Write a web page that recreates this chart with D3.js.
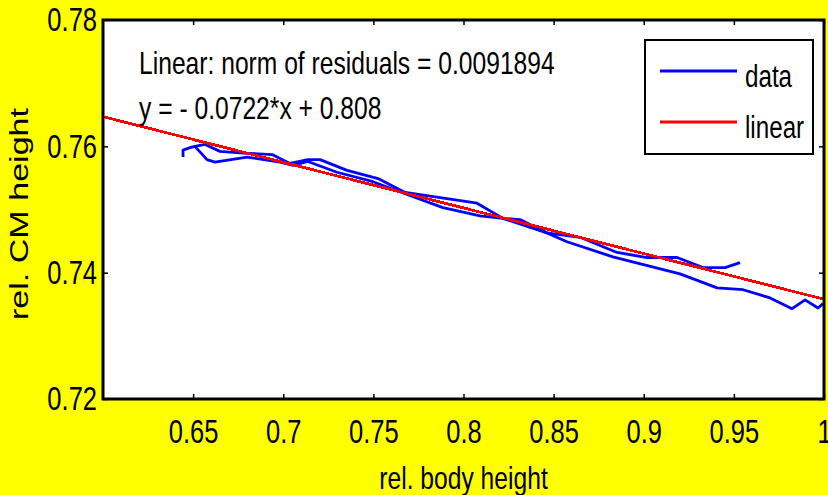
<!DOCTYPE html>
<html>
<head>
<meta charset="utf-8">
<title>rel. CM height vs rel. body height</title>
<script src="https://cdn.jsdelivr.net/npm/d3@7"></script>
<style>
    body {
        margin: 0;
        background-color: #FFFF00;
    }
    svg text {
        font-family: 'Liberation Sans', Arial, sans-serif;
        fill: #000;
    }
</style>
</head>
<body>
<div id="chart"></div>
<script>
    // data: two passes of the same movement
    var downX = [0.6444, 0.6444, 0.6483, 0.6510, 0.6577, 0.6621, 0.6799, 0.6982, 0.7054, 0.7137,
                 0.7298, 0.7498, 0.7676, 0.7886, 0.8092, 0.8219, 0.8463, 0.8574, 0.8829, 0.9201,
                 0.9407, 0.9551, 0.9701, 0.9823, 0.9895, 0.9967, 0.9994];
    var downY = [0.7583, 0.7594, 0.7598, 0.7600, 0.7579, 0.7575, 0.7583, 0.7575, 0.7570, 0.7576,
                 0.7559, 0.7544, 0.7525, 0.7503, 0.7490, 0.7486, 0.7463, 0.7449, 0.7425, 0.7398,
                 0.7376, 0.7373, 0.7360, 0.7343, 0.7357, 0.7344, 0.7351];
    var upX = [0.6510, 0.6566, 0.6649, 0.6799, 0.6938, 0.7037, 0.7137, 0.7204, 0.7354, 0.7526,
               0.7676, 0.8075, 0.8219, 0.8313, 0.8463, 0.8646, 0.8852, 0.9018, 0.9185, 0.9329,
               0.9451, 0.9534];
    var upY = [0.7600, 0.7603, 0.7592, 0.7589, 0.7587, 0.7573, 0.7579, 0.7579, 0.7562, 0.7549,
               0.7527, 0.7510, 0.7486, 0.7484, 0.7463, 0.7456, 0.7432, 0.7424, 0.7424, 0.7408,
               0.7408, 0.7416];

    // linear fit, y = -0.0722*x + 0.808, ends of the drawn line
    var linearX = [0.6, 1.0];
    var linearY = [0.7647, 0.7358];

    var xTicks = [0.65, 0.7, 0.75, 0.8, 0.85, 0.9, 0.95, 1];
    var yTicks = [0.72, 0.74, 0.76, 0.78];

    var fitText = ["Linear: norm of residuals = 0.0091894", "y = - 0.0722*x + 0.808"];
    var legendNames = ["data", "linear"];
    var legendColors = ["#0000FF", "#FF0000"];

    var width = 828, height = 495;
    var plot = {left: 103, right: 824, top: 20, bottom: 399};

    var svg = d3.select("#chart").append("svg")
        .attr("width", width)
        .attr("height", height);

    var x = d3.scaleLinear().domain([0.6, 1]).range([plot.left, plot.right]);
    var y = d3.scaleLinear().domain([0.72, 0.78]).range([plot.bottom, plot.top]);

    // white axes area
    svg.append("rect")
        .attr("x", plot.left).attr("y", plot.top)
        .attr("width", plot.right - plot.left)
        .attr("height", plot.bottom - plot.top)
        .attr("fill", "#fff");

    var fmt = function(d) { return String(d); };

    // bottom axis, ticks inside
    var gx = svg.append("g")
        .attr("transform", "translate(0," + plot.bottom + ")")
        .call(d3.axisBottom(x).tickValues(xTicks).tickFormat(fmt).tickSizeInner(-5).tickSizeOuter(0).tickPadding(20));
    // top axis, ticks only
    var gxt = svg.append("g")
        .attr("transform", "translate(0," + plot.top + ")")
        .call(d3.axisTop(x).tickValues(xTicks).tickFormat("").tickSizeInner(-5).tickSizeOuter(0));
    // left axis
    var gy = svg.append("g")
        .attr("transform", "translate(" + plot.left + ",0)")
        .call(d3.axisLeft(y).tickValues(yTicks).tickFormat(fmt).tickSizeInner(-5).tickSizeOuter(0).tickPadding(6));
    // right axis, ticks only
    var gyr = svg.append("g")
        .attr("transform", "translate(" + plot.right + ",0)")
        .call(d3.axisRight(y).tickValues(yTicks).tickFormat("").tickSizeInner(-5).tickSizeOuter(0));

    [gx, gxt, gy, gyr].forEach(function(g) {
        g.select(".domain").remove();
        g.selectAll(".tick line").attr("stroke", "#000").attr("stroke-width", 1.5);
        g.selectAll("text").attr("font-size", 34).attr("fill", "#000")
            .attr("data-squeeze", 0.75)
            .style("font-family", "'Liberation Sans', Arial, sans-serif");
    });

    // data lines
    var line = d3.line()
        .x(function(d) { return x(d[0]); })
        .y(function(d) { return y(d[1]); });

    svg.append("clipPath").attr("id", "clip")
        .append("rect")
        .attr("x", plot.left).attr("y", plot.top)
        .attr("width", plot.right - plot.left)
        .attr("height", plot.bottom - plot.top);

    var series = [d3.zip(downX, downY), d3.zip(upX, upY)];
    svg.append("g").attr("clip-path", "url(#clip)")
        .selectAll(".data")
        .data(series)
        .enter().append("path")
        .attr("class", "data")
        .attr("d", line)
        .attr("fill", "none")
        .attr("stroke", legendColors[0])
        .attr("stroke-width", 2.8)
        .attr("stroke-linejoin", "round");

    svg.append("path")
        .datum(d3.zip(linearX, linearY))
        .attr("d", line)
        .attr("fill", "none")
        .attr("stroke", legendColors[1])
        .attr("stroke-width", 2.8)
        .attr("shape-rendering", "crispEdges");

    // box round the axes
    svg.append("rect")
        .attr("x", plot.left).attr("y", plot.top)
        .attr("width", plot.right - plot.left)
        .attr("height", plot.bottom - plot.top)
        .attr("fill", "none")
        .attr("stroke", "#000")
        .attr("stroke-width", 3);

    // fit annotation
    svg.selectAll(".fit")
        .data(fitText)
        .enter().append("text")
        .attr("class", "fit")
        .attr("x", 139)
        .attr("y", function(d, i) { return 74 + i * 45; })
        .attr("font-size", 32)
        .attr("data-squeeze", 0.77)
        .text(function(d) { return d; });

    // legend
    var legend = svg.append("g").attr("transform", "translate(645,40)");
    legend.append("rect")
        .attr("width", 168).attr("height", 114)
        .attr("fill", "#fff").attr("stroke", "#000").attr("stroke-width", 2);
    var item = legend.selectAll(".item")
        .data(legendNames)
        .enter().append("g")
        .attr("class", "item")
        .attr("transform", function(d, i) { return "translate(0," + (31 + i * 51) + ")"; });
    item.append("line")
        .attr("x1", 15).attr("x2", 92)
        .attr("stroke", function(d, i) { return legendColors[i]; })
        .attr("stroke-width", 2.8);
    item.append("text")
        .attr("x", 100)
        .attr("y", 16)
        .attr("font-size", 31)
        .attr("data-squeeze", 0.78)
        .text(function(d) { return d; });

    // axis titles
    svg.append("text")
        .attr("x", (plot.left + plot.right) / 2)
        .attr("y", 489)
        .attr("text-anchor", "middle")
        .attr("font-size", 32)
        .attr("data-squeeze", 0.77)
        .text("rel. body height");

    svg.append("text")
        .attr("transform", "translate(28,214) rotate(-90)")
        .attr("text-anchor", "middle")
        .attr("font-size", 26)
        .attr("textLength", 212)
        .attr("lengthAdjust", "spacingAndGlyphs")
        .text("rel. CM height");

    // the figure's text is condensed, squeeze the labels sideways
    svg.selectAll("text[data-squeeze]").each(function() {
        var w = this.getComputedTextLength();
        var k = +this.getAttribute("data-squeeze");
        if (w > 0) d3.select(this).attr("textLength", w * k).attr("lengthAdjust", "spacingAndGlyphs");
    });
</script>
</body>
</html>
